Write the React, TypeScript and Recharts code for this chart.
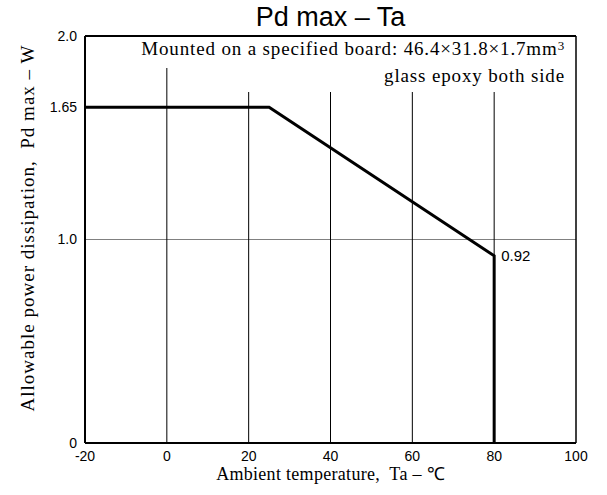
import {
  LineChart,
  Line,
  XAxis,
  YAxis,
  ReferenceLine,
  ReferenceDot,
} from 'recharts'

// derating curve: Pd max vs ambient temperature
const temps = [-20, 25, 80, 80]
const pdMax = [1.65, 1.65, 0.92, 0]

const xTicks = [-20, 0, 20, 40, 60, 80, 100]
const yTicks = [0, 1.0, 1.65, 2.0]
const yTickLabels = ['0', '1.0', '1.65', '2.0']
const gridX = [0, 20, 40, 60, 80]
const gridY = [1.0]

const data = temps.map((t, i) => ({ ta: t, pd: pdMax[i] }))

const W = 607
const H = 495
const sans = '"Liberation Sans", Arial, sans-serif'
const serif = '"Liberation Serif", "Times New Roman", serif'

export default function App() {
  return (
    <div style={{ position: 'absolute', left: 0, top: 0, width: W, height: H, background: '#fff' }}>
      <LineChart
        width={W}
        height={H}
        data={data}
        margin={{ top: 36, right: 31, left: 25, bottom: 30 }}
      >
        <XAxis
          dataKey="ta"
          type="number"
          domain={[-20, 100]}
          ticks={xTicks}
          tickLine={false}
          axisLine={{ stroke: '#000', strokeWidth: 2 }}
          tick={{ fill: '#000', fontSize: 14, fontFamily: sans }}
          height={22}
          interval={0}
        />
        <YAxis
          type="number"
          domain={[0, 2]}
          ticks={yTicks}
          tickLine={false}
          axisLine={{ stroke: '#000', strokeWidth: 2 }}
          tick={{ fill: '#000', fontSize: 14, fontFamily: sans }}
          tickFormatter={(v: number) => yTickLabels[yTicks.indexOf(v)] ?? String(v)}
          width={60}
          interval={0}
        />

        {gridY.map(v => (
          <ReferenceLine key={'gy' + v} y={v} stroke="#808080" strokeWidth={1} />
        ))}
        {gridX.map(v => (
          <ReferenceLine key={'gx' + v} x={v} stroke="#000" strokeWidth={1} />
        ))}
        {/* frame top / right */}
        <ReferenceLine y={2} stroke="#000" strokeWidth={2} />
        <ReferenceLine x={100} stroke="#000" strokeWidth={1.5} />

        <Line
          type="linear"
          dataKey="pd"
          stroke="#000"
          strokeWidth={3}
          dot={false}
          activeDot={false}
          isAnimationActive={false}
        />

        <ReferenceDot
          x={80}
          y={0.92}
          r={0}
          label={{
            value: '0.92',
            position: 'right',
            offset: 7,
            fill: '#000',
            fontSize: 15,
            fontFamily: sans,
          }}
        />
      </LineChart>

      {/* board note, masks gridlines behind it */}
      <div
        style={{
          position: 'absolute',
          right: 33,
          top: 37,
          height: 31,
          lineHeight: '23px',
          background: '#fff',
          fontFamily: serif,
          fontSize: 19,
          letterSpacing: 0.85,
          color: '#000',
          whiteSpace: 'pre',
          paddingLeft: 4,
          paddingRight: 9,
        }}
      >
        Mounted on a specified board: 46.4×31.8×1.7mm<sup style={{ fontSize: 13, verticalAlign: 'top', lineHeight: '18px' }}>3</sup>
      </div>
      <div
        style={{
          position: 'absolute',
          left: 200,
          right: 33,
          top: 68,
          height: 24,
          lineHeight: '15px',
          background: '#fff',
          fontFamily: serif,
          fontSize: 19,
          letterSpacing: 0.85,
          color: '#000',
          textAlign: 'right',
          whiteSpace: 'pre',
          paddingRight: 9,
        }}
      >
        glass epoxy both side
      </div>

      {/* title */}
      <div
        style={{
          position: 'absolute',
          left: 85,
          width: 491,
          top: 4,
          lineHeight: '27px',
          textAlign: 'center',
          fontFamily: sans,
          fontSize: 27,
          color: '#000',
        }}
      >
        Pd max – Ta
      </div>

      {/* x axis label */}
      <div
        style={{
          position: 'absolute',
          left: 85,
          width: 491,
          top: 466,
          lineHeight: '16px',
          textAlign: 'center',
          fontFamily: serif,
          fontSize: 18,
          letterSpacing: 0.3,
          color: '#000',
          whiteSpace: 'pre',
        }}
      >
        Ambient temperature,  Ta – ℃
      </div>

      {/* y axis label */}
      <div
        style={{
          position: 'absolute',
          left: 27,
          top: 228,
          lineHeight: '19px',
          transform: 'translate(-50%, -50%) rotate(-90deg)',
          fontFamily: serif,
          fontSize: 19,
          letterSpacing: 1,
          color: '#000',
          whiteSpace: 'pre',
        }}
      >
        Allowable power dissipation,  Pd max – W
      </div>
    </div>
  )
}
